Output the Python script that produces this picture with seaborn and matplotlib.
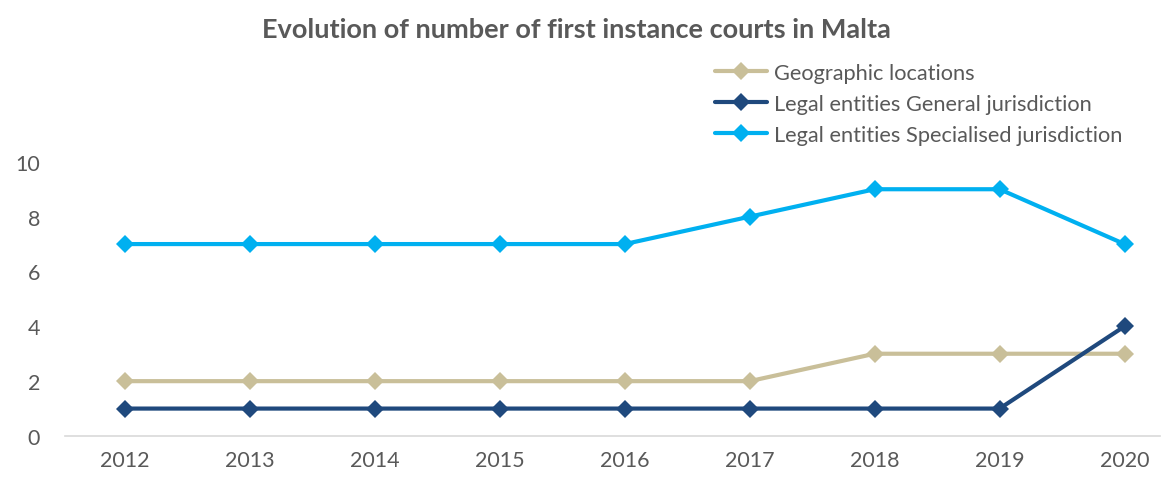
import pandas as pd
import matplotlib.pyplot as plt
import seaborn as sns

years = [2012, 2013, 2014, 2015, 2016, 2017, 2018, 2019, 2020]
geographic = [2, 2, 2, 2, 2, 2, 3, 3, 3]
general = [1, 1, 1, 1, 1, 1, 1, 1, 4]
specialised = [7, 7, 7, 7, 7, 8, 9, 9, 7]

series_names = ['Geographic locations',
                'Legal entities General jurisdiction',
                'Legal entities Specialised jurisdiction']
colors = ['#C9BF99', '#1F497D', '#00B0F0']

df = pd.concat([
    pd.DataFrame({'year': years, 'value': vals, 'series': name})
    for name, vals in zip(series_names, [geographic, general, specialised])
])

sns.set_style('white')
plt.rcParams['font.family'] = ['Lato', 'DejaVu Sans']
text_color = '#595959'

fig = plt.figure(figsize=(11.63, 4.81), dpi=100)
ax = fig.add_axes([0.056, 0.0915, 0.941, 0.57])

sns.lineplot(data=df, x='year', y='value', hue='series', hue_order=series_names,
             palette=colors, marker='D', markersize=9.5, markeredgewidth=0,
             linewidth=3, dashes=False, ax=ax, legend=True)

ax.set_xlim(2011.52, 2020.28)
ax.set_ylim(0, 10)
ax.set_yticks(range(0, 11, 2))
ax.set_xticks(years)
ax.set_xlabel('')
ax.set_ylabel('')
for side in ['top', 'right', 'left']:
    ax.spines[side].set_visible(False)
ax.spines['bottom'].set_color('#D9D9D9')
ax.spines['bottom'].set_linewidth(1.2)
ax.tick_params(axis='both', length=0, labelsize=15.5, colors=text_color, pad=10)
ax.tick_params(axis='y', pad=18)

handles, labels = ax.get_legend_handles_labels()
ax.legend_.remove()
fig.legend(handles, labels, loc='upper left', bbox_to_anchor=(0.607, 0.885),
           frameon=False, fontsize=15.7, labelcolor=text_color,
           handlelength=2.4, handletextpad=0.3, labelspacing=0.5, borderaxespad=0)

fig.text(0.496, 0.938, 'Evolution of number of first instance courts in Malta',
         ha='center', va='center', fontsize=19.5, fontweight='bold', color=text_color)

fig.savefig('out.png', dpi=100)
